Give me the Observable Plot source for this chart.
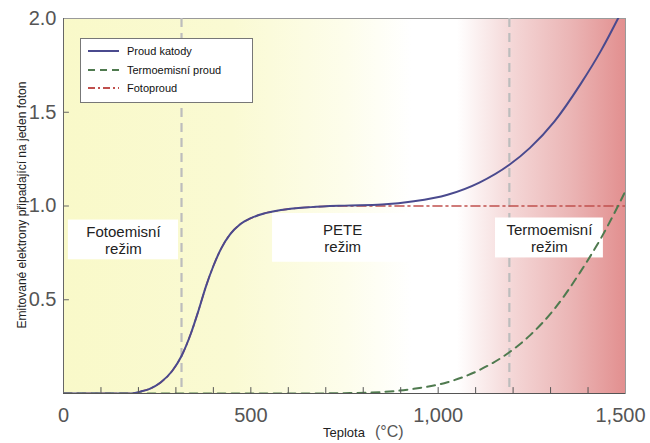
<!DOCTYPE html>
<html><head><meta charset="utf-8">
<script src="https://cdn.jsdelivr.net/npm/d3@7"></script>
<script src="https://cdn.jsdelivr.net/npm/@observablehq/plot@0.6"></script>
<style>
body{margin:0;background:#fff;}
#wrap{position:relative;width:650px;height:443px;font-family:"Liberation Sans",Arial,sans-serif;}
#wrap svg{position:absolute;left:0;top:0;}
.legend{position:absolute;left:80px;top:38px;width:171px;height:63px;background:#fff;border:1px solid #777;font-size:11px;color:#111;}
.legend .row{position:absolute;left:7px;height:14px;display:flex;align-items:center;}
.legend .row span{margin-left:8px;}
.ylab{position:absolute;left:22px;top:205px;transform:translate(-50%,-50%) rotate(-90deg);white-space:nowrap;font-size:12px;color:#222;}
.xlab{position:absolute;left:323px;top:423px;white-space:nowrap;font-size:13px;color:#222;}
.xlab .u{font-size:16px;color:#555;margin-left:10px;}
</style>
</head><body>
<div id="wrap"></div>
<script>
// Temperature (°C)
const temps   = [0, 100, 180, 205, 230, 260, 290, 315, 340, 360, 380, 400, 420, 445, 470, 500, 535, 570, 620, 660,
                 750, 850, 935, 1025, 1110, 1190, 1245, 1310, 1380, 1435, 1480, 1500];
// Proud katody
const cathode = [0, 0, 0, 0.01, 0.025, 0.06, 0.12, 0.20, 0.32, 0.44, 0.57, 0.68, 0.77, 0.85, 0.90, 0.935, 0.96, 0.975, 0.988, 0.994,
                 1.002, 1.008, 1.025, 1.06, 1.125, 1.22, 1.31, 1.45, 1.65, 1.83, 2.0, 2.08];
// Termoemisní proud
const thermo  = [0, 0, 0, 0, 0, 0, 0, 0, 0, 0, 0, 0, 0, 0, 0, 0, 0, 0, 0, 0,
                 0.002, 0.008, 0.025, 0.06, 0.125, 0.22, 0.31, 0.45, 0.65, 0.83, 1.0, 1.08];
// Fotoproud
const photo   = [0, 0, 0, 0.01, 0.025, 0.06, 0.12, 0.20, 0.32, 0.44, 0.57, 0.68, 0.77, 0.85, 0.90, 0.935, 0.96, 0.975, 0.988, 0.994,
                 1, 1, 1, 1, 1, 1, 1, 1, 1, 1, 1, 1];

const regimeBounds = [315, 1190];
const regionLabels = ["Fotoemisní\nrežim", "PETE\nrežim", "Termoemisní\nrežim"];
const regionX1 = [13, 558, 1153];
const regionX2 = [307, 953, 1441];
const regionY1 = [0.713, 0.70, 0.723];
const regionY2 = [0.925, 0.96, 0.936];
const regionTextX = [160, 745, 1297];

const xTickMarks = [100, 200, 300, 400, 500, 600, 700, 800, 900, 1000, 1100, 1200, 1300, 1400];
const xTickLabels = [0, 500, 1000];
const xLastLabel = [1500];
const yTickMarks = [0.5, 1.0, 1.5];
const yTickLabels = [0.5, 1.0, 1.5, 2.0];

const seriesNames = ["Proud katody", "Termoemisní proud", "Fotoproud"];

const rows = temps.map((t, i) => ({t, cathode: cathode[i], thermo: thermo[i], photo: photo[i]}));
const regions = regionLabels.map((label, i) => ({label, x1: regionX1[i], x2: regionX2[i], y1: regionY1[i], y2: regionY2[i], tx: regionTextX[i], ty: (regionY1[i] + regionY2[i]) / 2}));

const tickShape = {draw(context, l) { context.moveTo(0, 0); context.lineTo(0, -l); }};
const fmt = d3.format(",");

const chart = Plot.plot({
  width: 650, height: 443,
  marginLeft: 63, marginRight: 25, marginTop: 18, marginBottom: 50,
  x: {domain: [0, 1500], axis: null},
  y: {domain: [0, 2], axis: null},
  style: {fontFamily: "'Liberation Sans', Arial, sans-serif", background: "transparent", overflow: "visible"},
  marks: [
    Plot.frame({fill: "url(#bgGrad)", stroke: "#9a9a9a"}),
    Plot.ruleX(regimeBounds, {stroke: "#bdbdbd", strokeWidth: 2.2, strokeDasharray: "9,6"}),
    Plot.rect(regions, {x1: "x1", x2: "x2", y1: "y1", y2: "y2", fill: "white"}),
    Plot.text(regions, {x: "tx", y: "ty", text: "label", fontSize: 15, fill: "#222", lineHeight: 1.18}),
    Plot.line(rows, {x: "t", y: "photo", stroke: "#c0504d", strokeWidth: 1.6, strokeDasharray: "9,4,2,4", curve: "monotone-x", clip: true}),
    Plot.line(rows, {x: "t", y: "thermo", stroke: "#4f7a4f", strokeWidth: 2, strokeDasharray: "8,6", curve: "monotone-x", clip: true}),
    Plot.line(rows, {x: "t", y: "cathode", stroke: "#4a4a8e", strokeWidth: 2, curve: "monotone-x", clip: true}),
    Plot.ruleY([0], {stroke: "#555"}),
    Plot.ruleX([0], {stroke: "#666"}),
    Plot.vector(xTickMarks, {x: d => d, y: 0, length: 6, rotate: 0, anchor: "start", shape: tickShape, stroke: "#555", strokeWidth: 1}),
    Plot.vector(yTickMarks, {x: 0, y: d => d, length: 5, rotate: 90, anchor: "start", shape: tickShape, stroke: "#666", strokeWidth: 1}),
    Plot.text(xTickLabels, {x: d => d, y: 0, dy: 22, text: d => fmt(d), fontSize: 20, fill: "#555"}),
    Plot.text(xLastLabel, {x: d => d, y: 0, dy: 22, dx: -5, text: d => fmt(d), fontSize: 20, fill: "#555"}),
    Plot.text(yTickLabels, {x: 0, y: d => d, dx: -7, textAnchor: "end", text: d => d.toFixed(1), fontSize: 20, fill: "#555"})
  ]
});

// background gradient for the plot frame
const ns = "http://www.w3.org/2000/svg";
const defs = document.createElementNS(ns, "defs");
const grad = document.createElementNS(ns, "linearGradient");
grad.setAttribute("id", "bgGrad");
grad.setAttribute("x1", "0"); grad.setAttribute("x2", "1"); grad.setAttribute("y1", "0"); grad.setAttribute("y2", "0");
[[0, "#f9f9c9"], [0.3, "#fafad3"], [0.5, "#fdfdeb"], [0.62, "#ffffff"], [0.7, "#ffffff"], [0.8, "#f4d6d6"], [0.9, "#ebb6b6"], [1, "#e28f8f"]]
  .forEach(([o, c]) => { const s = document.createElementNS(ns, "stop"); s.setAttribute("offset", o); s.setAttribute("stop-color", c); grad.appendChild(s); });
defs.appendChild(grad);
chart.insertBefore(defs, chart.firstChild);

const wrap = document.getElementById("wrap");
wrap.appendChild(chart);

// legend
const lineStyles = [
  {stroke: "#4a4a8e", dash: "", w: 2},
  {stroke: "#4f7a4f", dash: "7,5", w: 2.2},
  {stroke: "#c0504d", dash: "7,3,2,3", w: 1.8}
];
const legend = document.createElement("div");
legend.className = "legend";
seriesNames.forEach((name, i) => {
  const row = document.createElement("div");
  row.className = "row";
  row.style.top = (5 + i * 18.5) + "px";
  const s = lineStyles[i];
  row.innerHTML = `<svg width="31" height="6" style="position:static"><line x1="0" x2="31" y1="3" y2="3" stroke="${s.stroke}" stroke-width="${s.w}" stroke-dasharray="${s.dash}"/></svg><span>${name}</span>`;
  legend.appendChild(row);
});
wrap.appendChild(legend);

const ylab = document.createElement("div");
ylab.className = "ylab";
ylab.textContent = "Emitované elektrony připadající na jeden foton";
wrap.appendChild(ylab);

const xlab = document.createElement("div");
xlab.className = "xlab";
xlab.innerHTML = `Teplota<span class="u">(°C)</span>`;
wrap.appendChild(xlab);
</script>
</body></html>
